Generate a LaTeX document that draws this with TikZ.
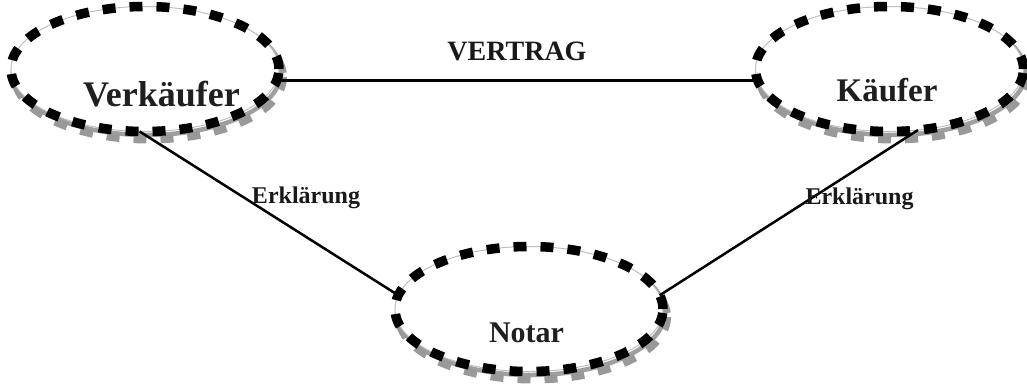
\documentclass[tikz,border=0pt]{standalone}
\usepackage{fontspec}
\setmainfont{Liberation Serif}
\usetikzlibrary{shapes.geometric}
\begin{document}
\begin{tikzpicture}[x=1pt,y=-1pt,
  party/.style={ellipse, inner sep=0pt, outer sep=0pt,
    minimum width=268pt, minimum height=125pt,
    fill=white, draw=gray!50, line width=1pt,
    postaction={draw=black, line width=9.5pt, dash pattern=on 13pt off 14pt}},
  partyshadow/.style={draw=gray!80, line width=8pt, dash pattern=on 13pt off 14pt},
  shadowband/.style={draw=gray!75, line width=4.5pt},
  partylabel/.style={text=black!88, anchor=base, inner sep=0pt},
  link/.style={draw=black, line width=2.5pt},
  linklabel/.style={text=black!90, anchor=base, inner sep=0pt}]
  \useasboundingbox (0,0) rectangle (1027,383);

  % centres of the three parties
  \coordinate (vc) at (145,69);
  \coordinate (kc) at (889.5,69);
  \coordinate (nc) at (529,309);

  % dashed drop shadows, offset to the lower right
  \foreach \c in {vc,kc,nc}{
    \draw[shadowband] ([shift={(2,3.5)}]\c) ellipse [x radius=134, y radius=62.5];
    \draw[partyshadow] ([shift={(4,8)}]\c) ellipse [x radius=134, y radius=62.5];
  }

  % the parties
  \node[party] (v) at (vc) {};
  \node[party] (k) at (kc) {};
  \node[party] (n) at (nc) {};

  \node[partylabel, font=\bfseries\fontsize{36}{36}\selectfont] (tv) at (161.5,106) {Verkäufer};
  \node[partylabel, font=\bfseries\fontsize{33}{33}\selectfont] (tk) at (887,101) {Käufer};
  \node[partylabel, font=\bfseries\fontsize{30}{30}\selectfont] (tn) at (526.5,342) {Notar};

  % relations
  \draw[link] (v.-5.5) -- (k.185.5);
  \draw[link] (v.265.5) -- (n.174.8);
  \draw[link] (k.295) -- (n.6.9);

  \node[linklabel, font=\bfseries\fontsize{28}{28}\selectfont] (vertrag) at (517,60.5) {VERTRAG};
  \node[linklabel, font=\bfseries\fontsize{24}{24}\selectfont] (erkl1) at (306,203) {Erklärung};
  \node[linklabel, font=\bfseries\fontsize{24}{24}\selectfont] (erkl2) at (859.5,204) {Erklärung};
\end{tikzpicture}
\end{document}
